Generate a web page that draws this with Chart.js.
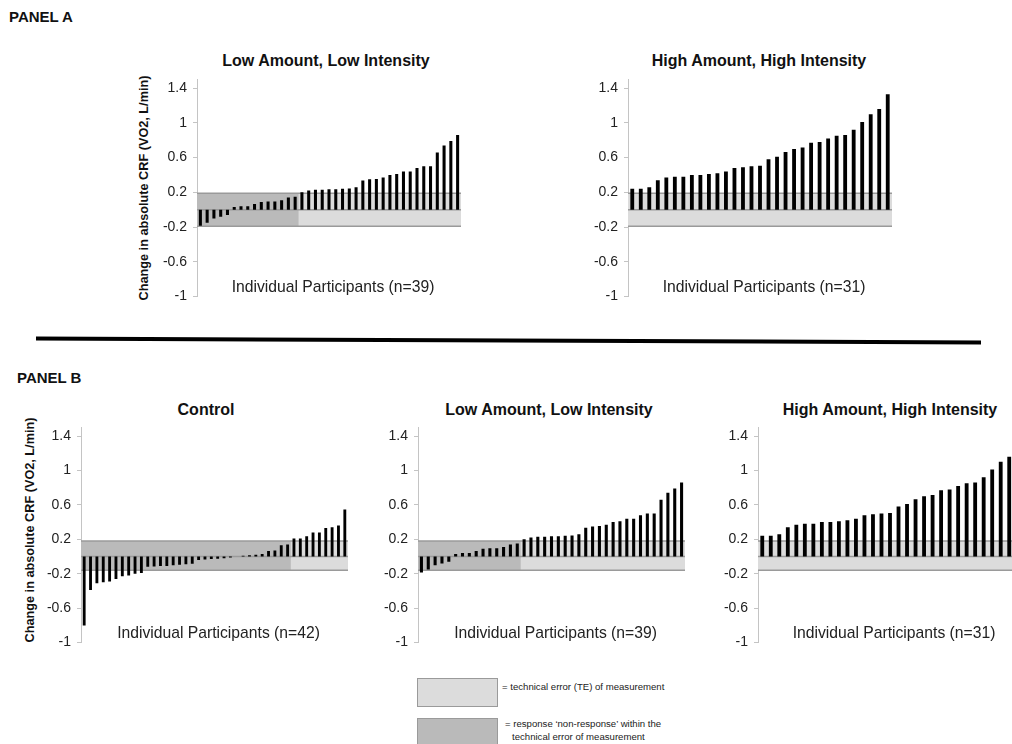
<!DOCTYPE html>
<html>
<head>
<meta charset="utf-8">
<script src="https://cdn.jsdelivr.net/npm/chart.js@4/dist/chart.umd.min.js"></script>
<style>
  html, body { margin: 0; padding: 0; background: #fff; overflow: hidden; }
  body { width: 1012px; height: 744px; position: relative; font-family: 'Liberation Sans', Arial, sans-serif; color: #111; }
  .box { position: absolute; }
  .txt { position: absolute; white-space: nowrap; }
  .panel { font-weight: bold; font-size: 15px; }
  .title { font-weight: bold; font-size: 16px; transform: translate(-50%, -50%); }
  .ylab { font-weight: bold; font-size: 12.7px; transform: translate(-50%, -50%) rotate(-90deg); }
  .leg { font-size: 9.6px; color: #222; }
  .swatch { position: absolute; border: 1px solid #9a9a9a; box-sizing: border-box; }
</style>
</head>
<body>

<div class="txt panel" style="left:9px; top:8px;">PANEL A</div>
<div class="txt panel" style="left:17px; top:369px;">PANEL B</div>

<svg class="box" style="left:0; top:0;" width="1012" height="744">
  <line x1="36" y1="338.5" x2="981" y2="342.5" stroke="#000" stroke-width="4"/>
</svg>

<div class="txt title" style="left:326px; top:61px;">Low Amount, Low Intensity</div>
<div class="txt title" style="left:759px; top:61px;">High Amount, High Intensity</div>
<div class="txt title" style="left:206px; top:410px;">Control</div>
<div class="txt title" style="left:549px; top:410px;">Low Amount, Low Intensity</div>
<div class="txt title" style="left:890px; top:410px;">High Amount, High Intensity</div>

<div class="txt ylab" style="left:144px; top:188px;">Change in absolute CRF (VO2, L/min)</div>
<div class="txt ylab" style="left:30px; top:530px;">Change in absolute CRF (VO2, L/min)</div>

<div class="box" style="left:157px; top:65px; width:306px; height:246px;"><canvas id="a1"></canvas></div>
<div class="box" style="left:588px; top:65px; width:306px; height:246px;"><canvas id="a2"></canvas></div>
<div class="box" style="left:41px; top:412.5px; width:309px; height:244px;"><canvas id="b1"></canvas></div>
<div class="box" style="left:378px; top:412.5px; width:309px; height:244px;"><canvas id="b2"></canvas></div>
<div class="box" style="left:718px; top:412.5px; width:306px; height:244px;"><canvas id="b3"></canvas></div>

<div class="swatch" style="left:417px; top:678px; width:81px; height:29px; background:#dcdcdc;"></div>
<div class="swatch" style="left:417px; top:718px; width:81px; height:30px; background:#bababa;"></div>
<div class="txt leg" style="left:502px; top:681px;">= technical error (TE) of measurement</div>
<div class="txt leg" style="left:505px; top:718px;">= response ‘non-response’ within the</div>
<div class="txt leg" style="left:512px; top:731px;">technical error of measurement</div>

<script>
// change in VO2 (L/min) per participant, sorted
const controlValues = [-0.80, -0.39, -0.31, -0.30, -0.29, -0.26, -0.23, -0.22, -0.20, -0.19,
    -0.12, -0.115, -0.11, -0.11, -0.10, -0.095, -0.09, -0.085, -0.04, -0.035, -0.03, -0.025,
    -0.02, -0.01, 0.0, 0.01, 0.015, 0.02, 0.03, 0.065, 0.07, 0.13, 0.14, 0.21, 0.21, 0.235,
    0.28, 0.28, 0.33, 0.34, 0.36, 0.545]
const lowLowValues = [-0.185, -0.15, -0.10, -0.08, -0.06, 0.03, 0.04, 0.04, 0.065, 0.09, 0.095,
    0.095, 0.11, 0.14, 0.15, 0.20, 0.22, 0.23, 0.23, 0.235, 0.235, 0.24, 0.245, 0.26, 0.335,
    0.35, 0.355, 0.37, 0.40, 0.41, 0.44, 0.44, 0.48, 0.50, 0.50, 0.66, 0.74, 0.79, 0.86]
const highHighValues = [0.24, 0.24, 0.26, 0.34, 0.37, 0.38, 0.38, 0.40, 0.40, 0.41, 0.42, 0.44,
    0.48, 0.49, 0.50, 0.505, 0.58, 0.61, 0.665, 0.70, 0.715, 0.77, 0.78, 0.82, 0.85, 0.86,
    0.92, 1.01, 1.10, 1.16, 1.33]

// technical error band and count of non-responders in each group
const teBandA = [-0.19, 0.19]
const teBandB = [-0.16, 0.18]
const nonResponders = { control: 33, lowLow: 15, highHigh: 0 }

const yTickValues = [-1, -0.6, -0.2, 0.2, 0.6, 1, 1.4]
const yMin = -1
const yMax = 1.5

const font = "'Liberation Sans', Arial, sans-serif"

const bandPlugin = {
    id: 'teBand',
    beforeDatasetsDraw(chart, args, opts) {
        const { ctx, chartArea: a, scales: { x, y } } = chart
        const top = y.getPixelForValue(opts.band[1])
        const bot = y.getPixelForValue(opts.band[0])
        const zero = y.getPixelForValue(0)
        ctx.save()
        ctx.fillStyle = '#dcdcdc'
        ctx.fillRect(a.left, top, a.right - a.left, bot - top)
        if (opts.dark > 0) {
            const n = chart.data.labels.length
            const edge = opts.dark >= n ? a.right
                : (x.getPixelForValue(opts.dark - 1) + x.getPixelForValue(opts.dark)) / 2
            ctx.fillStyle = '#bababa'
            ctx.fillRect(a.left, top, edge - a.left, bot - top)
        }
        ctx.strokeStyle = '#9a9a9a'
        ctx.lineWidth = 1.5
        for (const py of [top, zero, bot]) {
            ctx.beginPath()
            ctx.moveTo(a.left, py)
            ctx.lineTo(a.right, py)
            ctx.stroke()
        }
        ctx.restore()
    },
    afterDraw(chart, args, opts) {
        const { ctx, chartArea: a, scales: { y } } = chart
        ctx.save()
        ctx.font = '15.7px ' + font
        ctx.fillStyle = '#222'
        ctx.textAlign = 'center'
        ctx.textBaseline = 'middle'
        ctx.fillText(opts.label, (a.left + a.right) / 2 + 4, y.getPixelForValue(-0.9))
        ctx.restore()
    },
}

function makeChart(id, values, band, dark) {
    const labels = values.map((v, i) => String(i + 1))
    return new Chart(document.getElementById(id), {
        type: 'bar',
        data: {
            labels: labels,
            datasets: [{
                data: values,
                backgroundColor: '#000',
                barPercentage: 0.45,
                categoryPercentage: 1,
            }],
        },
        options: {
            animation: false,
            responsive: true,
            maintainAspectRatio: false,
            layout: { padding: { top: 5, bottom: 5, right: 2, left: 0 } },
            plugins: {
                legend: { display: false },
                tooltip: { enabled: false },
                teBand: {
                    band: band,
                    dark: dark,
                    label: 'Individual Participants (n=' + values.length + ')',
                },
            },
            scales: {
                x: { display: false },
                y: {
                    min: yMin,
                    max: yMax,
                    afterBuildTicks: (scale) => {
                        scale.ticks = yTickValues.map((v) => ({ value: v }))
                    },
                    afterFit: (scale) => {
                        scale.width = 40
                    },
                    border: { color: '#c4c4c4', width: 1 },
                    grid: {
                        drawOnChartArea: false,
                        tickLength: 4,
                        tickColor: '#c4c4c4',
                    },
                    ticks: {
                        padding: 6,
                        color: '#222',
                        font: { family: font, size: 14 },
                        callback: (v) => String(v),
                    },
                },
            },
        },
        plugins: [bandPlugin],
    })
}

makeChart('a1', lowLowValues, teBandA, nonResponders.lowLow)
makeChart('a2', highHighValues, teBandA, nonResponders.highHigh)
makeChart('b1', controlValues, teBandB, nonResponders.control)
makeChart('b2', lowLowValues, teBandB, nonResponders.lowLow)
makeChart('b3', highHighValues, teBandB, nonResponders.highHigh)
</script>
</body>
</html>
